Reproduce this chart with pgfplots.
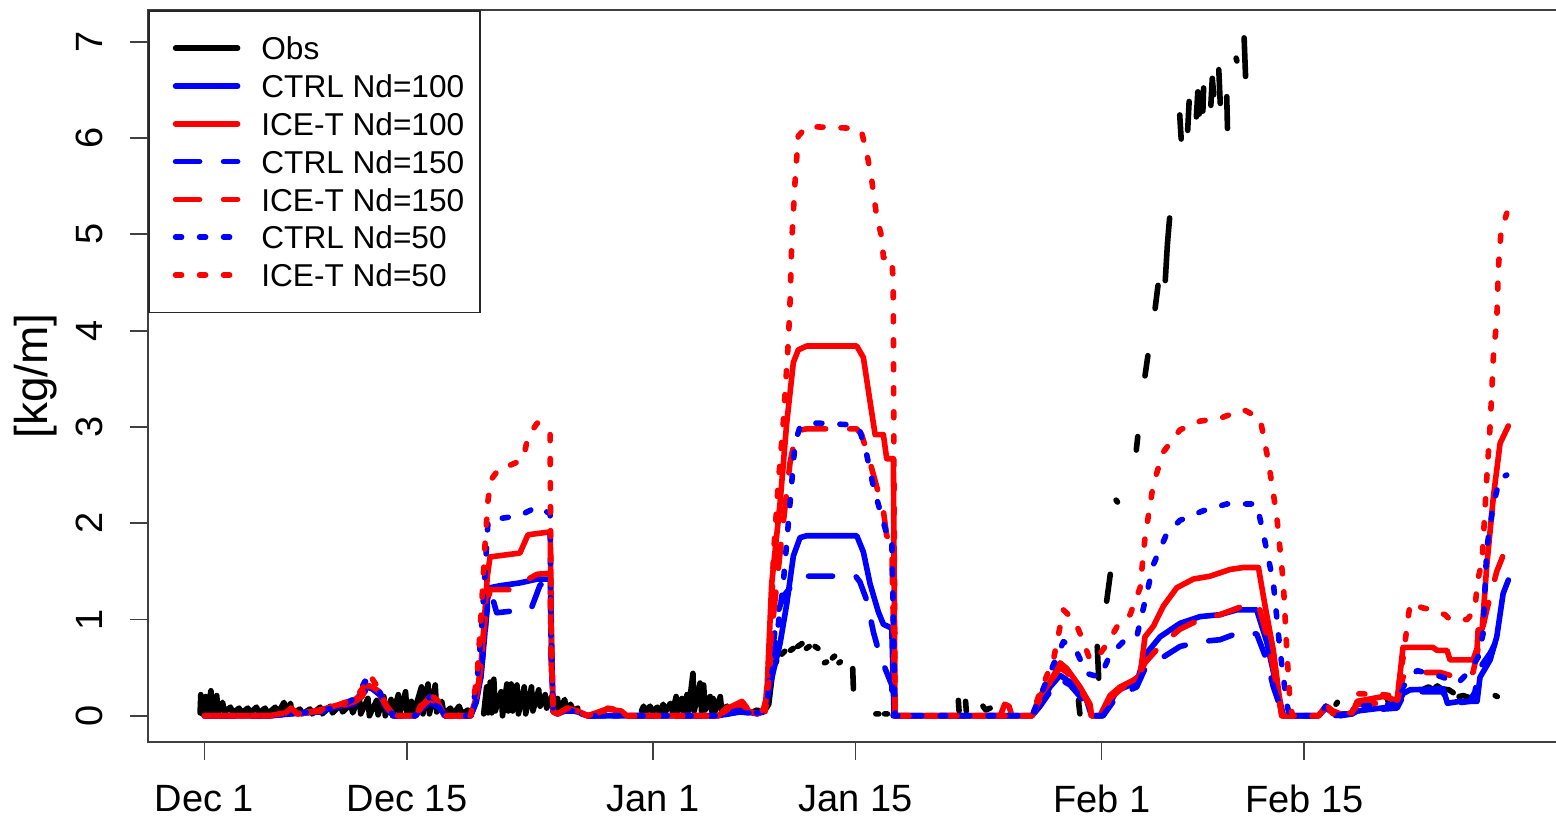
\documentclass[border=0pt]{standalone}
\usepackage{fontspec}
\setmainfont{Liberation Sans}
\usepackage{pgfplots}
\pgfplotsset{compat=1.18}
\definecolor{rblue}{RGB}{0,0,255}
\definecolor{rred}{RGB}{255,0,0}
\begin{document}
\begin{tikzpicture}
\begin{axis}[
  name=ax,
  scale only axis,
  width=706pt, height=366pt,
  xmin=-3.9, xmax=93.68,
  ymin=-0.272, ymax=7.33,
  axis line style={line width=1pt, black!75},
  tick pos=left,
  tick align=outside,
  major tick length=9pt,
  every tick/.style={line width=0.9pt, black!75},
  xtick={0,14,31,45,62,76},
  xticklabels={Dec 1,Dec 15,Jan 1,Jan 15,Feb 1,Feb 15},
  ytick={0,1,2,3,4,5,6,7},
  /pgf/number format/assume math mode=true,
  xticklabel style={font=\fontsize{19}{22}\selectfont, anchor=north, inner sep=0pt, yshift=-12.5pt},
  yticklabel style={font=\fontsize{19}{22}\selectfont, rotate=90, anchor=south, inner sep=0pt, yshift=13.5pt},
  ylabel={[kg/m]},
  every axis y label/.style={at={(axis description cs:-0.0711,0.5)}, rotate=90, anchor=base, inner sep=0pt, font=\fontsize{23}{26}\selectfont},
  unbounded coords=jump,
  every axis plot/.append style={line width=2.8pt, line cap=round, line join=round},
  legend cell align=left,
  legend style={at={(0,1)}, anchor=north west, draw=black!85, line width=0.8pt, fill=white,
    inner xsep=8pt, inner ysep=9.3pt, row sep=0pt, column sep=0pt,
    font=\fontsize{15.8}{18}\selectfont,
    nodes={inner sep=0pt, text height=15.25pt, text depth=3.65pt}},
  legend image code/.code={\path (0pt,0pt) (45.5pt,0pt); \draw[#1] (4pt,0pt) -- (35pt,0pt);},
]
% Obs
\addplot[black] coordinates {
(-0.3,0.03) (-0.25,0.22) (-0.15,0.02) (0.1,0.2) (0.2,0.02) (0.45,0.26) (0.55,0.04) (0.85,0.21) (0.95,0.03) (1.25,0.14) (1.4,0.04) (1.8,0.09) (1.95,0.03) (2.4,0.08) (2.55,0.03) (3.0,0.08) (3.15,0.03) (3.6,0.09) (3.75,0.03) (4.2,0.08) (4.35,0.02) (4.9,0.09) (5.05,0.02) (5.5,0.14) (5.6,0.03) (5.95,0.13) (6.05,0.02) (6.6,0.07) (6.75,0.02) (7.3,0.07) (7.45,0.02) (8.0,0.09) (8.15,0.02) (8.7,0.1) (8.85,0.03) (9.4,0.11) (9.55,0.04) (10.1,0.12) (10.25,0.03) (10.7,0.2) (10.8,0.02) (11.3,0.18) (11.4,0.0) (11.9,0.16) (12.0,0.01) (12.4,0.2) (12.5,0.0) (12.9,0.17) (13.0,0.0) (13.4,0.22) (13.5,0.02) (13.9,0.25) (14.0,0.02) (14.3,0.15) (14.45,0.02) (15.0,0.3) (15.1,0.02) (15.45,0.33) (15.55,0.02) (15.95,0.32) (16.05,0.04) (16.4,0.15) (16.55,0.02) (17.0,0.08) (17.2,0.02) (17.6,0.1) (17.8,0.02) (18.2,0.06) (18.4,0.02)
(18.5,nan)
(19.3,0.02) (19.5,0.3) (19.6,0.03) (19.75,0.35) (19.85,0.03) (20.0,0.38) (20.1,0.05) (20.5,0.25) (20.6,0.0) (20.9,0.33) (21.0,0.05) (21.2,0.33) (21.3,0.05) (21.6,0.32) (21.7,0.02) (22.1,0.3) (22.2,0.02) (22.6,0.3) (22.7,0.05) (23.1,0.27) (23.2,0.1) (23.55,0.22) (23.65,0.08) (24.0,0.2) (24.1,0.05) (24.4,0.18) (24.5,0.05) (24.9,0.17) (25.0,0.06) (25.3,0.12) (25.5,0.05) (25.8,0.08)
(26,nan)
(30.2,0.05) (30.35,0.1) (30.5,0.04) (30.8,0.1) (30.95,0.04) (31.3,0.09) (31.45,0.03) (31.7,0.12) (31.85,0.04) (32.2,0.13) (32.35,0.04) (32.6,0.2) (32.7,0.05) (33.0,0.18) (33.1,0.04) (33.35,0.22) (33.45,0.05) (33.76,0.44) (33.85,0.05) (34.25,0.34) (34.35,0.05) (34.5,0.32) (34.6,0.06) (34.95,0.2) (35.05,0.05) (35.15,0.18) (35.3,0.05) (35.65,0.2) (35.75,0.05) (36.1,0.1) (36.25,0.04) (36.6,0.1) (36.75,0.04) (37.0,0.08)
(37.5,nan)
(37.9,0.04) (38.2,0.06) (38.5,0.03) (38.7,0.05) (39.0,0.12) (39.3,0.5) (39.55,0.57) (39.7,nan) (39.9,0.64) (40.1,0.67) (40.3,nan) (40.5,0.68) (40.7,0.7) (40.85,nan) (41.0,0.72) (41.3,0.75) (41.45,nan) (41.6,0.7) (41.8,0.72) (42.0,nan) (42.2,0.72) (42.4,0.7)
(42.6,nan)
(42.85,0.55) (43.0,0.56) (43.2,nan) (43.4,0.6) (43.55,0.62) (43.7,nan) (43.85,0.55) (43.95,0.56) (44.3,nan) (44.8,0.49) (44.85,0.28) (45,nan)
(46.4,0.02) (46.6,0.02) (46.8,nan) (47.0,0.02) (47.2,0.02) (47.5,nan)
(52.1,0.16) (52.15,0.05) (52.3,nan) (52.6,0.15) (52.65,0.05) (53,nan) (53.8,0.1) (54.0,0.06) (54.3,0.08) (55,nan)
(58.1,0.21) (58.3,0.3) (59,nan) (60.4,0.16) (60.5,0.02) (61,nan) (61.7,0.72) (61.8,0.39) (62,nan) (62.35,1.19) (62.6,1.47) (62.8,nan) (63.0,2.24) (63.1,2.22) (63.5,nan) (64.4,2.76) (64.5,2.9) (64.7,nan) (65.0,3.53) (65.2,3.74) (65.4,nan) (65.7,4.23) (65.9,4.47) (66.1,nan) (66.4,4.52) (66.55,4.9) (66.7,5.17) (67,nan)
(67.4,6.24) (67.5,5.99) (67.7,nan) (67.95,6.08) (68.05,6.38) (68.3,nan) (68.55,6.22) (68.65,6.48) (68.75,6.25) (68.9,nan) (69.0,6.28) (69.05,6.52) (69.3,nan) (69.55,6.34) (69.65,6.62) (69.75,6.45) (69.9,nan) (70.1,6.71) (70.2,6.36) (70.4,nan) (70.65,6.43) (70.7,6.10) (71,nan) (71.3,6.83) (71.35,6.80) (71.6,nan) (71.85,7.04) (71.95,6.64) (72.2,nan)
(78.2,0.12) (78.3,0.14) (79,nan) (81.7,0.2) (81.8,0.15) (82,nan) (84.3,0.28) (84.6,0.3) (84.9,0.27) (85.2,0.31) (85.5,0.28) (86.0,0.27) (86.3,0.24) (86.5,nan) (86.7,0.2) (87.0,0.21) (87.4,0.19) (88,nan) (89.2,0.21) (89.35,0.2)
};
\addlegendentry{Obs}
% CTRL Nd=100
\addplot[rblue] coordinates {
(0,0) (4.5,0) (6,0.02) (8,0.05) (9.4,0.1) (10.4,0.15) (10.9,0.25) (11.2,0.3) (11.6,0.28) (12.1,0.22) (12.6,0.08) (13.1,0) (14.6,0) (15.0,0.08) (15.6,0.15) (16.2,0.1) (16.6,0) (18.4,0) (18.8,0.15) (19.1,0.4) (19.35,0.8) (19.55,1.2) (19.74,1.33) (20.4,1.35) (21.8,1.38) (23.0,1.42) (23.9,1.42) (24.0,0.6) (24.1,0.05) (24.4,0.02) (25.1,0.06) (25.8,0.04) (26.5,0) (35.5,0) (36.5,0.03) (37.2,0.05) (38.2,0.02) (38.74,0.05) (39.09,0.32) (39.78,0.75) (40.24,1.16) (40.7,1.66) (41.16,1.85) (41.62,1.87) (45.08,1.87) (45.54,1.70) (46.0,1.37) (46.57,1.08) (46.92,0.95) (47.5,0.91) (47.66,0) (57.2,0) (57.75,0.12) (58.44,0.3) (59.13,0.42) (59.82,0.35) (60.5,0.25) (60.97,0.16) (61.3,0) (62.1,0) (63.05,0.26) (64.43,0.35) (65.0,0.63) (66.04,0.82) (67.42,0.96) (68.8,1.03) (70.18,1.05) (71.34,1.1) (72.72,1.1) (73.41,0.77) (74.1,0.30) (74.56,0) (77.0,0) (77.5,0.08) (78.0,0.03) (78.5,0) (79.3,0.02) (79.66,0.05) (82.42,0.1) (82.83,0.23) (83.32,0.27) (85.6,0.28) (85.9,0.13) (86.77,0.15) (87.95,0.15) (88.15,0.4) (88.85,0.58) (89.31,0.82) (89.75,1.27) (90.11,1.41)
};
\addlegendentry{CTRL Nd=100}
% ICE-T Nd=100
\addplot[rred] coordinates {
(0,0) (4.5,0) (5.6,0.03) (6,0.08) (6.4,0.02) (8,0.06) (9.4,0.12) (10.4,0.17) (10.9,0.22) (11.2,0.32) (11.6,0.3) (12.1,0.25) (12.6,0.1) (13.1,0) (14.6,0) (15.0,0.1) (15.6,0.2) (16.2,0.12) (16.6,0) (18.4,0) (18.8,0.2) (19.1,0.5) (19.35,1.0) (19.55,1.45) (19.74,1.65) (21.8,1.69) (22.36,1.88) (23.9,1.91) (24.0,0.6) (24.1,0.05) (24.4,0.02) (25.1,0.08) (25.8,0.05) (26.5,0) (27.8,0.07) (28.8,0.05) (29.2,0) (35.5,0) (36.2,0.08) (37.15,0.15) (37.6,0.05) (38.2,0.02) (38.6,0.05) (38.86,0.20) (39.2,1.37) (39.78,2.21) (40.24,3.04) (40.7,3.67) (41.04,3.80) (41.62,3.84) (45.08,3.84) (45.54,3.72) (45.88,3.38) (46.35,2.92) (46.92,2.92) (47.15,2.67) (47.61,2.67) (47.73,0) (55.0,0) (55.3,0.12) (55.6,0.1) (55.8,0) (57.2,0) (57.75,0.21) (58.44,0.35) (59.13,0.55) (59.6,0.49) (60.51,0.30) (61.2,0.12) (61.3,0) (61.89,0) (62.58,0.21) (63.28,0.30) (64.2,0.37) (64.66,0.42) (65.0,0.82) (65.58,0.93) (66.27,1.14) (67.2,1.33) (68.34,1.42) (69.5,1.45) (70.88,1.52) (71.8,1.54) (72.84,1.54) (73.3,1.14) (73.87,0.68) (74.45,0) (77.0,0) (77.5,0.1) (78.0,0.05) (78.5,0.02) (79.31,0.02) (79.66,0.15) (81.45,0.2) (82.42,0.16) (82.63,0.44) (82.83,0.71) (84.9,0.71) (85.18,0.68) (85.87,0.68) (86.08,0.58) (87.67,0.58) (87.95,0.7) (88.02,0.89) (88.3,0.9) (88.62,1.56) (89.08,2.28) (89.54,2.83) (90.11,3.01)
};
\addlegendentry{ICE-T Nd=100}
% CTRL Nd=150
\addplot[rblue, dash pattern=on 12pt off 12pt] coordinates {
(0,0) (4.5,0) (6,0.02) (8,0.04) (9.4,0.08) (10.4,0.13) (10.9,0.22) (11.2,0.27) (11.6,0.25) (12.1,0.2) (12.6,0.07) (13.1,0) (14.6,0) (15.0,0.07) (15.6,0.14) (16.2,0.09) (16.6,0) (18.4,0) (18.8,0.15) (19.1,0.4) (19.35,0.8) (19.6,1.2) (19.8,1.28) (20.2,1.07) (22.0,1.1) (22.6,1.12) (23.2,1.36) (23.9,1.38) (24.0,0.6) (24.1,0.04) (24.4,0.02) (25.1,0.05) (25.8,0.03) (26.5,0) (35.5,0) (37.0,0.04) (38.2,0.02) (38.74,0.04) (38.97,0.32) (39.55,1.04) (40.0,1.24) (40.7,1.37) (41.28,1.45) (45.0,1.45) (45.3,1.39) (45.77,1.2) (46.23,0.87) (46.69,0.62) (47.15,0.45) (47.5,0.32) (47.6,0) (57.2,0) (57.75,0.1) (58.44,0.25) (59.13,0.38) (59.82,0.32) (60.97,0.12) (61.3,0) (62.1,0) (63.05,0.2) (64.43,0.3) (65.0,0.49) (67.42,0.72) (68.8,0.77) (70.18,0.79) (71.6,0.87) (72.72,0.85) (73.41,0.58) (73.87,0.3) (74.56,0) (77.0,0) (77.5,0.06) (78,0) (79.31,0.02) (79.66,0.05) (82.42,0.08) (82.83,0.2) (83.32,0.25) (85.6,0.25) (85.9,0.12) (87.46,0.15) (87.8,0.25) (88.15,0.5) (88.85,0.65) (89.54,0.85) (90.11,0.82)
};
\addlegendentry{CTRL Nd=150}
% ICE-T Nd=150
\addplot[rred, dash pattern=on 12pt off 12pt] coordinates {
(0,0) (4.5,0) (5.6,0.03) (6,0.07) (6.4,0.02) (8,0.05) (9.4,0.1) (10.4,0.15) (10.9,0.2) (11.2,0.3) (11.6,0.28) (12.1,0.23) (12.6,0.09) (13.1,0) (14.6,0) (15.0,0.09) (15.6,0.18) (16.2,0.11) (16.6,0) (18.4,0) (18.8,0.2) (19.1,0.5) (19.35,0.95) (19.74,1.31) (21.12,1.31) (22.02,1.39) (22.99,1.47) (23.9,1.48) (23.95,0.6) (24.1,0.04) (24.4,0.02) (25.1,0.07) (25.8,0.04) (26.5,0) (27.8,0.06) (28.8,0.04) (29.2,0) (35.5,0) (36.2,0.07) (37.15,0.12) (37.6,0.04) (38.2,0.02) (38.74,0.04) (38.97,0.53) (39.55,1.37) (40.0,2.0) (40.47,2.63) (40.93,2.96) (41.62,2.98) (45.08,2.98) (45.42,2.92) (46.0,2.63) (46.46,2.38) (46.92,2.13) (47.15,1.87) (47.5,1.79) (47.61,0.95) (47.73,0) (57.2,0) (57.75,0.18) (58.44,0.35) (59.13,0.5) (59.6,0.45) (60.5,0.28) (61.2,0.1) (61.3,0) (61.89,0) (62.58,0.18) (63.28,0.27) (64.66,0.45) (65.0,0.55) (66.0,0.72) (67.42,0.9) (68.8,1.0) (70.18,1.05) (71.6,1.13) (72.84,1.15) (73.3,0.9) (73.87,0.5) (74.45,0) (77,0) (77.5,0.1) (78,0.02) (79.31,0.02) (79.66,0.12) (82.42,0.14) (82.83,0.4) (83.32,0.45) (85.4,0.45) (86.08,0.42) (86.77,0.4) (87.67,0.45) (88.02,0.7) (88.62,1.1) (89.31,1.5) (90.11,1.8)
};
\addlegendentry{ICE-T Nd=150}
% CTRL Nd=50
\addplot[rblue, dash pattern=on 3pt off 9pt] coordinates {
(0,0) (4.5,0) (6,0.02) (8,0.05) (9.4,0.1) (10.4,0.18) (10.9,0.3) (11.1,0.36) (11.6,0.3) (12.1,0.25) (12.6,0.08) (13.1,0) (14.6,0) (15.0,0.1) (15.6,0.2) (16.2,0.15) (16.6,0) (18.4,0) (18.8,0.3) (19.1,0.8) (19.4,1.5) (19.6,2.03) (21.81,2.08) (22.99,2.17) (23.89,2.1) (23.95,0.8) (24.1,0.05) (24.4,0.02) (25.1,0.05) (26,0.05) (26.5,0) (35.5,0) (37,0.06) (38.2,0.03) (38.74,0.05) (39.32,0.53) (40.0,1.37) (40.47,2.21) (40.82,2.84) (41.16,3.0) (42.3,3.04) (45.0,3.02) (45.3,2.96) (45.77,2.71) (46.23,2.38) (46.69,2.13) (47.15,1.89) (47.5,1.87) (47.61,0.95) (47.73,0) (57.2,0) (57.75,0.2) (58.44,0.45) (59.36,0.77) (60.17,0.70) (60.97,0.44) (61.89,0.40) (62.58,0.63) (63.5,0.77) (64.43,0.82) (65.0,1.19) (65.58,1.57) (66.5,1.89) (67.42,2.03) (69.03,2.13) (70.65,2.2) (72.72,2.2) (73.18,1.89) (73.87,1.38) (74.33,0.68) (74.8,0.12) (75.0,0) (77,0) (77.5,0.1) (78,0.02) (79.31,0.02) (79.66,0.1) (82.42,0.12) (82.83,0.3) (83.8,0.47) (84.3,0.45) (85.4,0.41) (86.63,0.34) (87.46,0.47) (88.02,0.61) (88.36,0.85) (88.62,1.74) (89.08,2.2) (89.54,2.47) (90.0,2.5)
};
\addlegendentry{CTRL Nd=50}
% ICE-T Nd=50
\addplot[rred, dash pattern=on 3pt off 9pt] coordinates {
(0,0) (4.5,0) (5.6,0.03) (6,0.1) (6.4,0.02) (8,0.06) (9.4,0.12) (10.4,0.18) (10.9,0.28) (11.44,0.42) (11.79,0.34) (12.14,0.27) (12.48,0.12) (12.9,0) (14.6,0) (15.0,0.12) (15.6,0.22) (16.2,0.15) (16.6,0) (18.4,0) (18.84,0.4) (19.1,1.0) (19.4,1.8) (19.6,2.24) (19.8,2.45) (20.43,2.58) (20.77,2.58) (22.02,2.66) (22.36,2.9) (23.0,3.04) (23.89,2.95) (23.95,1.0) (24.1,0.05) (24.4,0.02) (25.1,0.08) (25.8,0.05) (26.5,0) (27.8,0.08) (28.8,0.06) (29.2,0) (35.5,0) (36.2,0.1) (37.15,0.15) (37.6,0.06) (38.4,0.03) (38.86,0.11) (39.09,0.53) (39.32,1.66) (39.66,2.42) (40.0,3.04) (40.35,3.88) (40.47,4.30) (40.59,4.93) (40.82,5.56) (41.04,6.02) (41.62,6.12) (45.08,6.10) (45.42,6.06) (45.77,5.85) (46.12,5.56) (46.46,5.18) (46.81,4.97) (46.92,4.76) (47.5,4.76) (47.6,4.51) (47.66,2.21) (47.73,0) (57.2,0) (57.75,0.25) (58.67,0.58) (59.36,1.10) (60.17,0.98) (60.74,0.77) (61.2,0.58) (61.7,0.6) (62.47,0.77) (63.28,0.98) (63.97,1.05) (64.66,1.33) (65.0,1.85) (65.58,2.41) (66.27,2.74) (67.42,2.97) (68.8,3.06) (70.18,3.09) (71.8,3.18) (72.95,3.09) (73.53,2.64) (74.1,2.08) (74.56,1.38) (74.8,0.68) (75.03,0.12) (75.2,0) (77,0) (77.5,0.12) (78,0.03) (79.31,0.03) (79.66,0.23) (81.45,0.22) (82.42,0.2) (82.83,0.6) (83.32,1.17) (84.21,1.12) (84.9,1.1) (85.73,1.05) (86.08,1.0) (87.26,1.0) (87.81,1.1) (87.95,1.38) (88.29,1.6) (88.62,2.47) (88.85,3.01) (89.08,3.74) (89.31,4.11) (89.42,4.65) (89.6,5.02) (90.0,5.22)
};
\addlegendentry{ICE-T Nd=50}
\end{axis}
\pgfresetboundingbox
\path[use as bounding box] ([xshift=-74pt,yshift=-37.5pt]ax.south west) rectangle ([xshift=-2pt,yshift=5pt]ax.north east);
\end{tikzpicture}
\end{document}
